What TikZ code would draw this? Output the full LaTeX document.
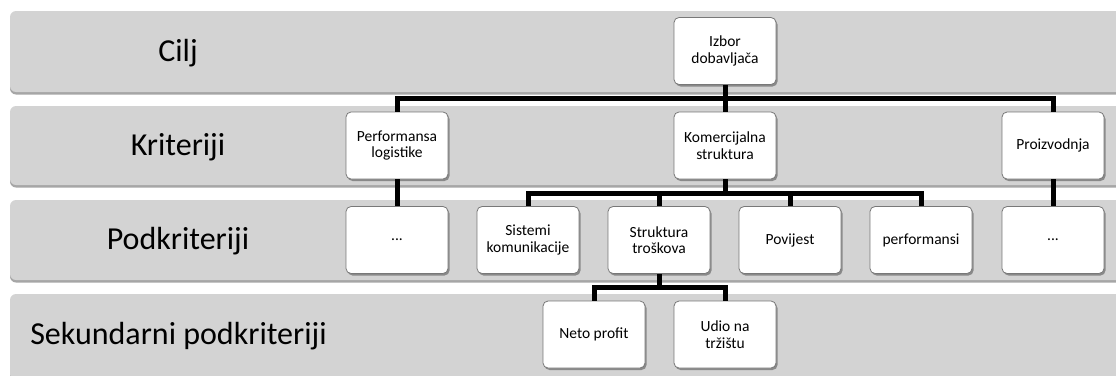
\documentclass[tikz,border=0pt]{standalone}
\usepackage{fontspec}
\setmainfont{Carlito}
\usetikzlibrary{shadows}
\definecolor{bandgray}{RGB}{211,211,211}
\definecolor{boxborder}{RGB}{120,120,120}
\begin{document}
\begin{tikzpicture}[x=1pt,y=-1pt,
  band/.style={fill=bandgray, rounded corners=6pt,
    drop shadow={shadow xshift=0pt, shadow yshift=-2.5pt, opacity=0.35, fill=black}},
  bandlabel/.style={font=\fontsize{32}{35}\selectfont, anchor=center},
  box/.style={draw=boxborder, line width=0.8pt, fill=white, rounded corners=5pt,
    minimum width=102pt, minimum height=67pt, align=center, inner sep=2pt,
    font=\fontsize{15.5}{16.5}\selectfont,
    drop shadow={shadow xshift=1.5pt, shadow yshift=-2pt, opacity=0.35, fill=black}},
  conn/.style={draw=black, line width=5pt}]
\useasboundingbox (0,0) rectangle (1116,375);
\begin{scope}
\clip (0,0) rectangle (1116,375);
\path[band] (10,11) rectangle (1140,92);
\path[band] (10,106) rectangle (1140,185);
\path[band] (10,200) rectangle (1140,280);
\path[band] (10,294) rectangle (1140,380);
\end{scope}
\node[bandlabel] (lcilj) at (178,53) {Cilj};
\node[bandlabel] (lkrit) at (178,147) {Kriteriji};
\node[bandlabel] (lpod) at (178,241) {Podkriteriji};
\node[bandlabel] (lsek) at (178.5,336) {Sekundarni podkriteriji};

\coordinate (j1) at (725,98);
\coordinate (j2) at (725,193);
\coordinate (j3) at (659,287);

\node[box] (izbor) at (725,51) {Izbor\\dobavljača};
\node[box] (perf) at (397,145.5) {Performansa\\logistike};
\node[box] (komer) at (725,145.5) {Komercijalna\\struktura};
\node[box] (proiz) at (1053,145.5) {Proizvodnja};
\node[box] (dots1) at (397,240) {...};
\node[box] (sist) at (528,240) {Sistemi\\komunikacije};
\node[box] (strukt) at (659,240) {Struktura\\troškova};
\node[box] (povij) at (790,240) {Povijest};
\node[box] (perfi) at (921,240) {performansi};
\node[box] (dots2) at (1053,240) {...};
\node[box] (neto) at (594,334.5) {Neto profit};
\node[box] (udio) at (725,334.5) {Udio na\\tržištu};

\draw[conn] (izbor.south) -- (komer.north);
\draw[conn] (perf.north) -- (perf.north |- j1) -- (proiz.north |- j1) -- (proiz.north);
\draw[conn] (komer.south) -- (j2);
\draw[conn] (sist.north) -- (sist.north |- j2) -- (perfi.north |- j2) -- (perfi.north);
\draw[conn] (strukt.north) -- (strukt.north |- j2);
\draw[conn] (povij.north) -- (povij.north |- j2);
\draw[conn] (perf.south) -- (dots1.north);
\draw[conn] (proiz.south) -- (dots2.north);
\draw[conn] (strukt.south) -- (j3);
\draw[conn] (neto.north) -- (neto.north |- j3) -- (udio.north |- j3) -- (udio.north);
\end{tikzpicture}
\end{document}
